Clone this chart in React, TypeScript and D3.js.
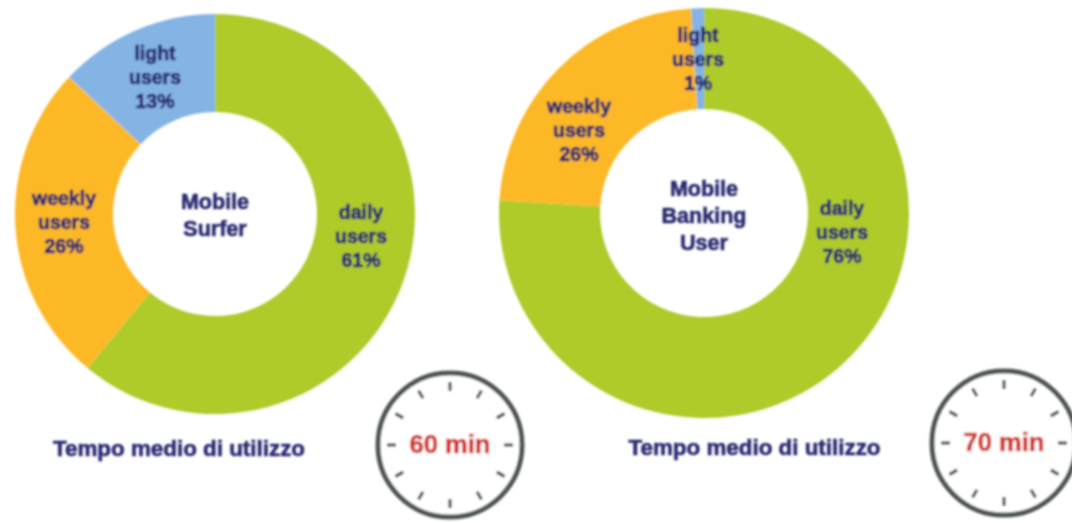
import React from "react";
import * as d3 from "d3";

const WIDTH = 1072;
const HEIGHT = 523;

const surferNames = ["daily", "weekly", "light"];
const surferShares = [61, 26, 13];
const surferLabels = ["61%", "26%", "13%"];

// the printed banking labels add up to 103%, the slices are drawn as 76/23/1
const bankingNames = ["daily", "weekly", "light"];
const bankingShares = [76, 23, 1];
const bankingLabels = ["76%", "26%", "1%"];

const colors = ["#aecb2c", "#fdb827", "#84b4e4"];
const INK = "#2a2a72";
const RED = "#d1382f";
const clockTicks = d3.range(12);

const pie = d3.pie<number>().sort(null);

function Donut({ cx, cy, outer, inner, values, names, labels, spots, title, titleY }: any) {
	const arc = d3.arc<d3.PieArcDatum<number>>().innerRadius(inner).outerRadius(outer);
	return (
		<g transform={`translate(${cx},${cy})`}>
			{pie(values).map((d, i) => (
				<path key={i} d={arc(d) as string} fill={colors[i]} />
			))}
			{names.map((n: string, i: number) => (
				<text key={n} x={spots[i][0]} y={spots[i][1]} textAnchor="middle" fontSize={19.5} fontWeight="bold" fill={INK} stroke={INK} strokeWidth={0.7}>
					<tspan x={spots[i][0]} dy={0}>{n}</tspan>
					<tspan x={spots[i][0]} dy={24}>users</tspan>
					<tspan x={spots[i][0]} dy={24}>{labels[i]}</tspan>
				</text>
			))}
			<text textAnchor="middle" fontSize={21.5} fontWeight="bold" fill={INK} stroke={INK} strokeWidth={0.6}>
				{title.map((t: string, i: number) => (
					<tspan key={t} x={0} y={titleY + i * 27}>{t}</tspan>
				))}
			</text>
		</g>
	);
}

function Clock({ cx, cy, label }: any) {
	const r = 72;
	return (
		<g transform={`translate(${cx},${cy})`}>
			<circle r={r} fill="#fff" stroke="#505557" strokeWidth={5} />
			{clockTicks.map((t) => {
				const a = (t / 12) * 2 * Math.PI;
				return (
					<line
						key={t}
						x1={Math.sin(a) * (r - 18)}
						y1={-Math.cos(a) * (r - 18)}
						x2={Math.sin(a) * (r - 9)}
						y2={-Math.cos(a) * (r - 9)}
						stroke="#505557"
						strokeWidth={3.2}
					/>
				);
			})}
			<text y={8} textAnchor="middle" fontSize={25.5} fontWeight="bold" fill={RED} stroke={RED} strokeWidth={0.7}>{label}</text>
		</g>
	);
}

export default function App() {
	return (
		<svg
			width={WIDTH}
			height={HEIGHT}
			style={{ position: "fixed", left: 0, top: 0, background: "#fff", fontFamily: "'Liberation Sans', Arial, sans-serif" }}
		>
			<defs>
				<filter id="soft" x="-5%" y="-5%" width="110%" height="110%">
					<feGaussianBlur stdDeviation={1} />
				</filter>
			</defs>
			<g filter="url(#soft)">
				<Donut
					cx={215}
					cy={214}
					outer={200}
					inner={102}
					values={surferShares}
					names={surferNames}
					labels={surferLabels}
					spots={[[146, 5], [-151, -9], [-60, -154]]}
					title={["Mobile", "Surfer"]}
					titleY={-5}
				/>
				<Donut
					cx={704}
					cy={213}
					outer={205}
					inner={104}
					values={bankingShares}
					names={bankingNames}
					labels={bankingLabels}
					spots={[[138, 2], [-125, -100], [-6, -171]]}
					title={["Mobile", "Banking", "User"]}
					titleY={-17}
				/>
				<text x={179} y={456} textAnchor="middle" fontSize={22.4} fontWeight="bold" fill={INK} stroke={INK} strokeWidth={0.6}>Tempo medio di utilizzo</text>
				<text x={754.5} y={455} textAnchor="middle" fontSize={22.4} fontWeight="bold" fill={INK} stroke={INK} strokeWidth={0.6}>Tempo medio di utilizzo</text>
				<Clock cx={450} cy={445} label="60 min" />
				<Clock cx={1004} cy={443} label="70 min" />
			</g>
		</svg>
	);
}
